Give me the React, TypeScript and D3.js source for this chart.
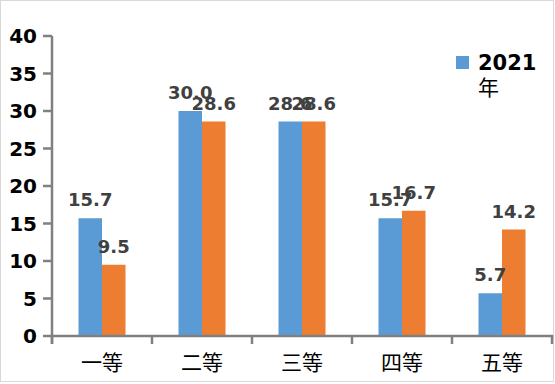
import React from "react";
import * as d3 from "d3";

const categories = ["一等", "二等", "三等", "四等", "五等"];
const series2021 = [15.7, 30.0, 28.6, 15.7, 5.7];
const seriesOther = [9.5, 28.6, 28.6, 16.7, 14.2];
const yTicks = [0, 5, 10, 15, 20, 25, 30, 35, 40];
const legendLabel = ["2021", "年"];

const W = 555;
const H = 384;
const BLUE = "#5B9BD5";
const ORANGE = "#ED7D31";
const AXIS = "#808080";
const NUM_FONT = "'DejaVu Sans', sans-serif";
const CJK_FONT = "'Noto Sans CJK SC', 'Noto Sans', sans-serif";

export default function App() {
  const x = d3.scaleBand<string>().domain(categories).range([52, 552]).padding(0);
  const y = d3.scaleLinear().domain([0, 40]).range([336, 36]);
  const bw = x.bandwidth() * 0.235;
  const y0 = y(0);

  return (
    <svg
      width={W}
      height={H}
      style={{ position: "absolute", left: 0, top: 0, background: "#fff" }}
    >
      <rect x={0.5} y={0.5} width={553} height={381} fill="#fff" stroke="#d9d9d9" strokeWidth={1} />

      {/* bars */}
      {categories.map((c, i) => {
        const cx = (x(c) as number) + x.bandwidth() / 2;
        return (
          <g key={c}>
            <rect x={cx - bw} y={y(series2021[i])} width={bw} height={y0 - y(series2021[i])} fill={BLUE} />
            <rect x={cx} y={y(seriesOther[i])} width={bw} height={y0 - y(seriesOther[i])} fill={ORANGE} />
          </g>
        );
      })}

      {/* axes */}
      <line x1={52} x2={52} y1={y(40)} y2={y0 + 8} stroke={AXIS} strokeWidth={2.5} />
      <line x1={52 - 1.25} x2={552 + 1.25} y1={y0} y2={y0} stroke={AXIS} strokeWidth={2.5} />
      {yTicks.map((t) => (
        <g key={t}>
          <line x1={43} x2={52} y1={y(t)} y2={y(t)} stroke={AXIS} strokeWidth={2.5} />
          <text
            x={37}
            y={y(t)}
            dy="0.36em"
            textAnchor="end"
            fontFamily={NUM_FONT}
            fontWeight="bold"
            fontSize={20}
            fill="#000"
          >
            {t}
          </text>
        </g>
      ))}
      {categories.map((c) => (
        <line key={"t" + c} x1={x(c) as number} x2={x(c) as number} y1={y0} y2={y0 + 8} stroke={AXIS} strokeWidth={2.5} />
      ))}
      <line x1={552} x2={552} y1={y0} y2={y0 + 8} stroke={AXIS} strokeWidth={2.5} />

      {/* category labels */}
      {categories.map((c) => (
        <text
          key={"l" + c}
          x={(x(c) as number) + x.bandwidth() / 2}
          y={370}
          textAnchor="middle"
          fontFamily={CJK_FONT}
          fontSize={21}
          fill="#000"
        >
          {c}
        </text>
      ))}

      {/* data labels */}
      {categories.map((c, i) => {
        const cx = (x(c) as number) + x.bandwidth() / 2;
        return (
          <g key={"d" + c} fontFamily={NUM_FONT} fontWeight="bold" fontSize={18} fill="#404040" textAnchor="middle">
            <text x={cx - bw / 2} y={y(series2021[i]) - 12}>{series2021[i].toFixed(1)}</text>
            <text x={cx + bw / 2} y={y(seriesOther[i]) - 12}>{seriesOther[i].toFixed(1)}</text>
          </g>
        );
      })}

      {/* legend */}
      <rect x={456} y={56} width={13} height={13} fill={BLUE} />
      <text x={478} y={70} fontFamily={NUM_FONT} fontWeight="bold" fontSize={21} fill="#000">
        {legendLabel[0]}
      </text>
      <text x={478} y={95} fontFamily={CJK_FONT} fontSize={21} fill="#000">
        {legendLabel[1]}
      </text>
    </svg>
  );
}
